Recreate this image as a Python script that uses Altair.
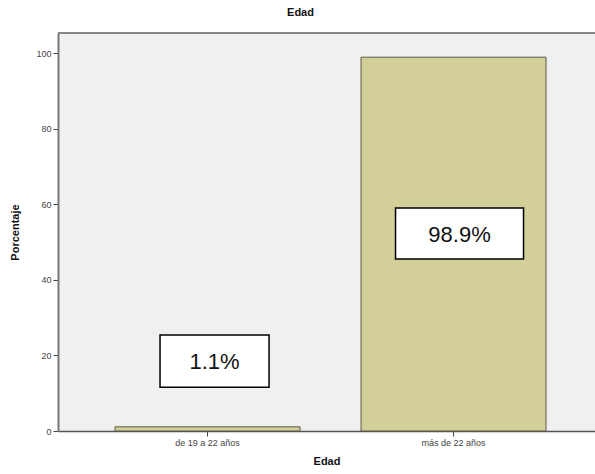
import altair as alt
import pandas as pd

# Age distribution (percent of respondents)
categories = ["de 19 a 22 años", "más de 22 años"]
percentages = [1.1, 98.9]

# Label boxes: value range on the y axis, pixel width and horizontal shift
box_lo = [11.6, 45.5]
box_hi = [25.4, 59.0]
box_width = [109, 128]
box_shift = [7, 6]

df = pd.DataFrame({"Edad": categories, "Porcentaje": percentages})
df["label"] = [f"{v}%" for v in percentages]
df["lo"] = box_lo
df["hi"] = box_hi
df["mid"] = [(a + b) / 2 for a, b in zip(box_lo, box_hi)]

W, H = 537, 398
FONT = "Liberation Sans"

x_enc = alt.X(
    "Edad:N",
    sort=categories,
    scale=alt.Scale(paddingInner=0.248, paddingOuter=0.2155, align=0.538),
    axis=alt.Axis(
        title="Edad", labelAngle=0, labelFontSize=9, labelColor="#444",
        labelFont=FONT, titleFont=FONT, titleFontSize=11, titleFontWeight="bold",
        titleColor="#111", titlePadding=8, domainColor="#555", domainWidth=1.5,
        tickColor="#444", tickSize=5, labelPadding=2,
    ),
)
y_scale = alt.Scale(domain=[0, 105.3], nice=False, zero=True)

bars = alt.Chart(df).mark_bar(
    color="#d3cf98", stroke="#5a5a4a", strokeWidth=1
).encode(
    x=x_enc,
    y=alt.Y(
        "Porcentaje:Q", scale=y_scale,
        axis=alt.Axis(
            values=[0, 20, 40, 60, 80, 100], grid=False, title="Porcentaje",
            labelFontSize=9, labelColor="#444", labelFont=FONT, titleFont=FONT,
            titleFontSize=11, titleFontWeight="bold", titleColor="#111",
            titlePadding=15, domainColor="#777", domainWidth=2,
            tickColor="#444", tickSize=5, labelPadding=2,
        ),
    ),
)

top_frame = alt.Chart(df).mark_rule(color="#888", strokeWidth=2).encode(
    x=alt.value(0), x2=alt.value(W), y=alt.value(0)
)

layers = [bars, top_frame]
for i, cat in enumerate(categories):
    sub = alt.Chart(df).transform_filter(alt.datum.Edad == cat)
    box = sub.mark_bar(
        width=box_width[i], xOffset=box_shift[i], fill="white",
        stroke="black", strokeWidth=1.5
    ).encode(x=alt.X("Edad:N", sort=categories), y=alt.Y("lo:Q", scale=y_scale), y2="hi:Q")
    txt = sub.mark_text(
        font=FONT, fontSize=22, color="#111", dx=box_shift[i], dy=1
    ).encode(x=alt.X("Edad:N", sort=categories), y=alt.Y("mid:Q", scale=y_scale), text="label:N")
    layers += [box, txt]

chart = alt.layer(*layers).properties(
    width=W, height=H,
    title=alt.TitleParams(
        "Edad", font=FONT, fontSize=11, fontWeight="bold", color="#111",
        anchor="middle", dx=-26, offset=14,
    ),
    autosize=alt.AutoSizeParams(type="none"),
    padding={"left": 58, "top": 33, "right": 0, "bottom": 43},
    background="white",
).configure_view(stroke=None, fill="#f0f0f0")

chart.save("out.html", embed_options={"renderer": "svg", "actions": False})
